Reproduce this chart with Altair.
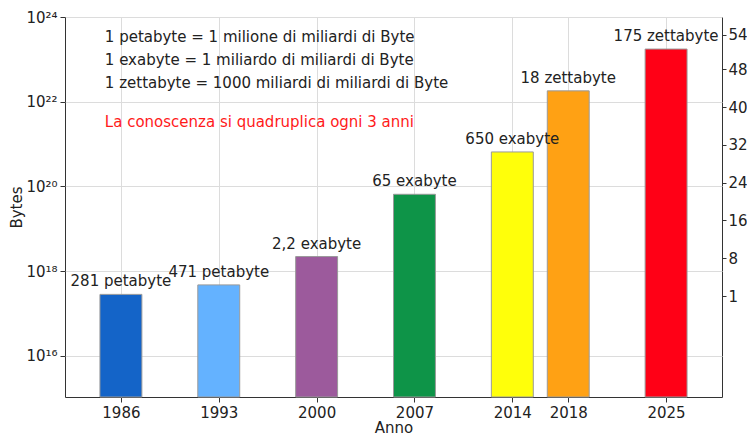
import altair as alt
import pandas as pd

years = [1986, 1993, 2000, 2007, 2014, 2018, 2025]
values = [2.81e17, 4.71e17, 2.2e18, 6.5e19, 6.5e20, 1.8e22, 1.75e23]
labels = ["281 petabyte", "471 petabyte", "2,2 exabyte", "65 exabyte",
          "650 exabyte", "18 zettabyte", "175 zettabyte"]
colors = ["#1464C8", "#64B2FF", "#9C5A9C", "#0E9448", "#FFFF0A", "#FFA114", "#FF0016"]

note_texts = ["1 petabyte = 1 milione di miliardi di Byte",
              "1 exabyte = 1 miliardo di miliardi di Byte",
              "1 zettabyte = 1000 miliardi di miliardi di Byte",
              "La conoscenza si quadruplica ogni 3 anni"]
note_x = [1984.85, 1984.85, 1984.85, 1984.85]
note_y = [3.43e23, 9.64e22, 2.72e22, 3.37e21]
note_colors = ["#222222", "#222222", "#222222", "#FF1A1A"]

# right-hand axis: tick labels and their positions (in tick-step units)
right_labels = ["1", "8", "16", "24", "32", "40", "48", "54"]
right_pos = [0, 1, 2, 3, 4, 5, 6, 6.91]

FONT = "DejaVu Sans"
YMIN, YMAX = 1.06e15, 1e24

df = pd.DataFrame({"year": years, "value": values, "label": labels, "color": colors})
notes = pd.DataFrame({"x": note_x, "y": note_y, "text": note_texts, "c": note_colors})
rdf = pd.DataFrame({"r": right_pos, "lab": right_labels})

xscale = alt.Scale(domain=[1982, 2029], nice=False, zero=False)
yscale = alt.Scale(type="log", domain=[YMIN, YMAX], nice=False)

ylabel_expr = ("datum.value >= 1e24 ? '10²⁴' : datum.value >= 1e22 ? '10²²' : "
               "datum.value >= 1e20 ? '10²⁰' : datum.value >= 1e18 ? '10¹⁸' : '10¹⁶'")

bars = alt.Chart(df).transform_calculate(
    x0="datum.year - 1.5", x1="datum.year + 1.5"
).mark_bar(stroke="#9a9a9a", strokeWidth=1).encode(
    x=alt.X("x0:Q", scale=xscale,
            axis=alt.Axis(values=years, format="d", title="Anno", grid=True,
                          gridColor="#dcdcdc", tickSize=5, labelPadding=3,
                          domain=False, titlePadding=0)),
    x2="x1:Q",
    y=alt.Y("value:Q", scale=yscale,
            axis=alt.Axis(values=[1e16, 1e18, 1e20, 1e22, 1e24], labelExpr=ylabel_expr,
                          title="Bytes", grid=True, gridColor="#dcdcdc", tickSize=5,
                          labelPadding=3, domain=False, titlePadding=1)),
    y2=alt.datum(YMIN),
    color=alt.Color("color:N", scale=None),
)

bar_labels = alt.Chart(df).mark_text(dy=-8, baseline="alphabetic", fontSize=15,
                                     font=FONT, color="#222222").encode(
    x=alt.X("year:Q", scale=xscale),
    y=alt.Y("value:Q", scale=yscale),
    text="label:N",
)

note_marks = alt.Chart(notes).mark_text(align="left", baseline="middle", fontSize=15,
                                        font=FONT).encode(
    x=alt.X("x:Q", scale=xscale),
    y=alt.Y("y:Q", scale=yscale),
    text="text:N",
    color=alt.Color("c:N", scale=None),
)

right_expr = ("datum.value > 6.5 ? '54' : ['" + "','".join(right_labels[:7]) +
              "'][round(datum.value)]")
right = alt.Chart(rdf).mark_point(opacity=0).encode(
    y=alt.Y("r:Q", scale=alt.Scale(domain=[-2.673, 7.385], nice=False, zero=False),
            axis=alt.Axis(orient="right", values=right_pos, labelExpr=right_expr,
                          title=None, grid=False, domain=False, tickSize=4,
                          labelPadding=2)),
)

chart = alt.layer(alt.layer(bars, bar_labels, note_marks), right).resolve_scale(
    y="independent"
).properties(
    width=657, height=380,
    autosize=alt.AutoSizeParams(type="none"),
    padding={"left": 57, "top": 9, "right": 25, "bottom": 39},
).configure_view(
    stroke="#333333", strokeWidth=1
).configure_axis(
    labelFont=FONT, titleFont=FONT, labelFontSize=15, titleFontSize=15,
    titleFontWeight="normal", labelColor="#222222", titleColor="#222222",
    tickColor="#333333",
)

chart.save("out.html", embed_options={"renderer": "svg", "actions": False})
